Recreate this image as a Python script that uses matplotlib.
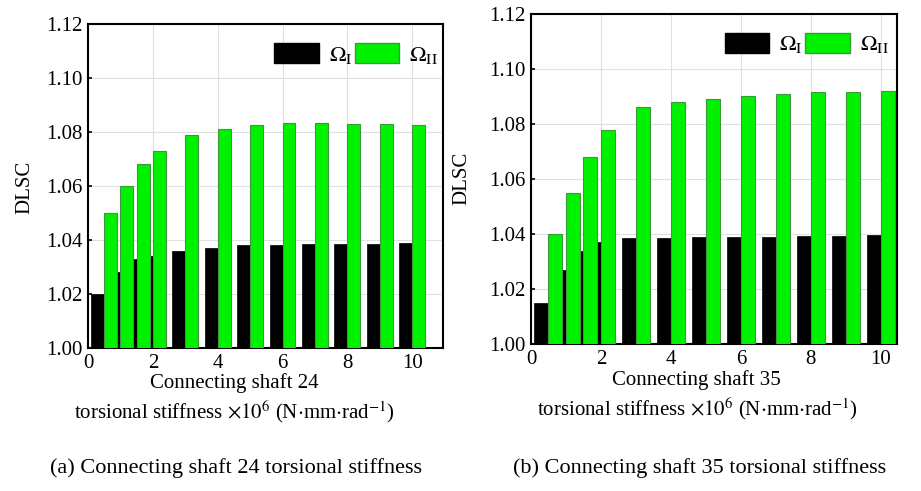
import matplotlib
matplotlib.use("Agg")
import matplotlib.pyplot as plt
from matplotlib.patches import Patch

plt.rcParams['font.family'] = ['Liberation Serif', 'DejaVu Serif']
plt.rcParams['mathtext.fontset'] = 'stix'

# Data
stiffness = [0.5, 1, 1.5, 2, 3, 4, 5, 6, 7, 8, 9, 10]
omega1_24 = [1.020, 1.028, 1.033, 1.034, 1.036, 1.037, 1.038, 1.0382, 1.0385, 1.0385, 1.0387, 1.039]
omega2_24 = [1.050, 1.060, 1.068, 1.073, 1.079, 1.081, 1.0825, 1.0835, 1.0832, 1.083, 1.0828, 1.0825]
omega1_35 = [1.015, 1.027, 1.034, 1.037, 1.0384, 1.0387, 1.0388, 1.039, 1.039, 1.0392, 1.0393, 1.0395]
omega2_35 = [1.040, 1.055, 1.068, 1.078, 1.086, 1.088, 1.089, 1.090, 1.091, 1.0915, 1.0918, 1.092]
yticks = [1.00, 1.02, 1.04, 1.06, 1.08, 1.10, 1.12]
xticks = [0, 2, 4, 6, 8, 10]
captions = ["(a) Connecting shaft 24 torsional stiffness", "(b) Connecting shaft 35 torsional stiffness"]
label1 = ["Connecting shaft 24", "Connecting shaft 35"]
label2 = r"torsional stiffness $\times10^{6}$ (N$\cdot$mm$\cdot$rad$^{-1}$)"

W, H = 921, 491
fig = plt.figure(figsize=(W / 100, H / 100), dpi=100)

def box(l, r, t, b):
    return [l / W, 1 - b / H, (r - l) / W, (b - t) / H]

axes_specs = [
    dict(rect=box(88, 443, 24, 348), xmax=10.95, o1=omega1_24, o2=omega2_24,
         leg=(0.755, 0.907), l1x=234, l2x=234, ly1=383, ly2=412, capx=236,
         ylx=25, yly=187),
    dict(rect=box(531, 897, 14, 344), xmax=10.46, o1=omega1_35, o2=omega2_35,
         leg=(0.754, 0.909), l1x=696, l2x=697, ly1=380, ly2=409, capx=700,
         ylx=462, yly=178),
]

green = '#00f200'
fs = 15
for i, s in enumerate(axes_specs):
    ax = fig.add_axes(s['rect'])
    ax.set_axisbelow(True)
    ax.grid(True, color='#e0e0e0', linewidth=0.8)
    ax.bar([x - 0.4 for x in stiffness], [v - 1 for v in s['o1']], width=0.4, bottom=1,
           align='edge', color='black', edgecolor='black', linewidth=0.5, zorder=2)
    ax.bar(stiffness, [v - 1 for v in s['o2']], width=0.4, bottom=1,
           align='edge', color=green, edgecolor='#3a9a3a', linewidth=0.8, zorder=3)
    ax.set_xlim(0, s['xmax'])
    ax.set_ylim(1.00, 1.12)
    ax.set_yticks(yticks)
    ax.set_yticklabels([f"{v:.2f}" for v in yticks])
    ax.set_xticks(xticks)
    ax.tick_params(direction='in', length=3, labelsize=fs, width=1.2, pad=4)
    for sp in ax.spines.values():
        sp.set_linewidth(1.5)
    handles = [Patch(facecolor='black', edgecolor='black'),
               Patch(facecolor=green, edgecolor='#3a9a3a')]
    ax.legend(handles, [r'$\Omega_{\rm I}$', r'$\Omega_{\rm II}$'], ncol=2, frameon=False,
              loc='center', bbox_to_anchor=s['leg'], fontsize=fs + 1,
              handlelength=2.0, handleheight=1.05, handletextpad=0.45,
              columnspacing=0.1, borderpad=0, borderaxespad=0)
    fig.text(s['l1x'] / W, 1 - s['ly1'] / H, label1[i], ha='center', va='center', fontsize=fs)
    fig.text(s['l2x'] / W, 1 - s['ly2'] / H, label2, ha='center', va='center', fontsize=fs)
    fig.text(s['capx'] / W, 1 - 468 / H, captions[i], ha='center', va='center', fontsize=fs + 1)
    fig.text(s['ylx'] / W, 1 - s['yly'] / H, 'DLSC', ha='center', va='center',
             rotation=90, fontsize=fs)

fig.savefig('out.png', dpi=100)
